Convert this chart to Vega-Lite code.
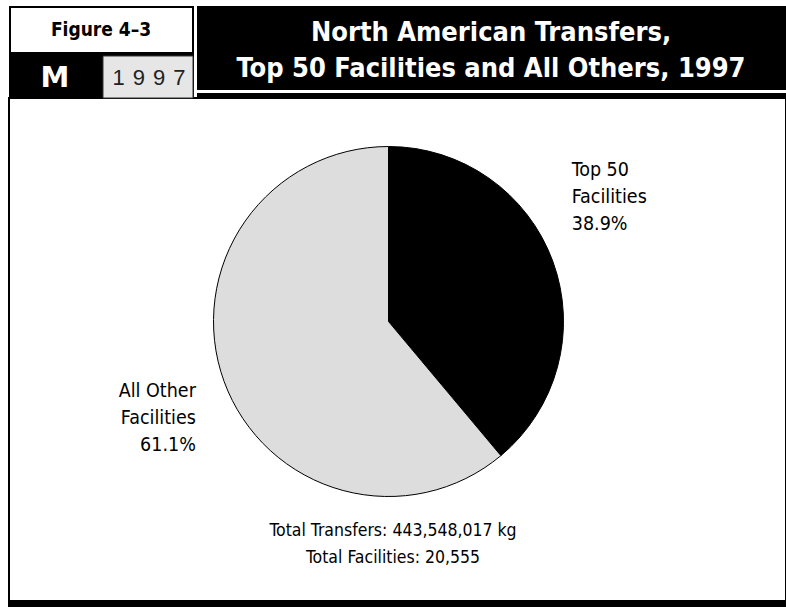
{
  "$schema": "https://vega.github.io/schema/vega-lite/v6.json",
  "width": 786,
  "height": 607,
  "autosize": {"type": "fit", "contains": "padding"},
  "padding": 0,
  "background": "white",
  "config": {"view": {"stroke": null}},
  "data": {
    "values": [
      {"category": "Top 50 Facilities", "value": 38.9, "label": "Top 50\nFacilities\n38.9%"},
      {"category": "All Other Facilities", "value": 61.1, "label": "All Other\nFacilities\n61.1%"}
    ]
  },
  "layer": [
    {"data": {"values": [{}]}, "mark": {"type": "rect", "x": 9, "x2": 786, "y": 98, "y2": 601, "fill": "white", "stroke": "black", "strokeWidth": 2}, "encoding": {}},
    {"data": {"values": [{}]}, "mark": {"type": "rect", "x": 8, "x2": 786, "y": 601, "y2": 607, "fill": "black"}, "encoding": {}},
    {"data": {"values": [{}]}, "mark": {"type": "rect", "x": 197, "x2": 786, "y": 6, "y2": 90, "fill": "black"}, "encoding": {}},
    {"data": {"values": [{}]}, "mark": {"type": "rect", "x": 197, "x2": 786, "y": 93, "y2": 99, "fill": "black"}, "encoding": {}},
    {"data": {"values": [{}]}, "mark": {"type": "rect", "x": 10, "x2": 193, "y": 7, "y2": 53, "fill": "white", "stroke": "black", "strokeWidth": 2}, "encoding": {}},
    {"data": {"values": [{}]}, "mark": {"type": "rect", "x": 9, "x2": 194, "y": 53, "y2": 99, "fill": "black"}, "encoding": {}},
    {"data": {"values": [{}]}, "mark": {"type": "rect", "x": 103, "x2": 193, "y": 56, "y2": 98, "fill": "#e6e6e6", "stroke": "#333333", "strokeWidth": 1}, "encoding": {}},
    {"data": {"values": [{}]}, "mark": {"type": "text", "x": 101, "y": 30, "text": "Figure 4–3", "font": "DejaVu Sans Condensed, sans-serif", "fontWeight": "bold", "fontSize": 19, "align": "center", "baseline": "middle", "color": "black"}, "encoding": {}},
    {"data": {"values": [{}]}, "mark": {"type": "text", "x": 55, "y": 78, "text": "M", "font": "DejaVu Sans, sans-serif", "fontWeight": "bold", "fontSize": 29, "align": "center", "baseline": "middle", "color": "white"}, "encoding": {}},
    {"data": {"values": [{}]}, "mark": {"type": "text", "x": 149, "y": 78, "text": "1\u00a0\u200a9\u00a0\u200a9\u00a0\u200a7", "font": "Liberation Sans, Arial, sans-serif", "fontSize": 22, "align": "center", "baseline": "middle", "color": "#222222"}, "encoding": {}},
    {"data": {"values": [{}]}, "mark": {"type": "text", "x": 491, "y": 33, "text": ["North American Transfers,", "Top 50 Facilities and All Others, 1997"], "lineHeight": 36, "font": "DejaVu Sans Condensed, sans-serif", "fontWeight": "bold", "fontSize": 27, "align": "center", "baseline": "middle", "color": "white"}, "encoding": {}},
    {
      "mark": {"type": "arc", "x": 388.5, "y": 321.5, "outerRadius": 175, "stroke": "black", "strokeWidth": 1},
      "encoding": {
        "theta": {"field": "value", "type": "quantitative", "stack": true},
        "order": {"field": "category", "sort": "descending"},
        "color": {"field": "category", "type": "nominal", "scale": {"domain": ["Top 50 Facilities", "All Other Facilities"], "range": ["#000000", "#dddddd"]}, "legend": null}
      }
    },
    {
      "mark": {"type": "text", "x": 388.5, "y": 321.5, "radius": 195, "dy": -85, "align": "left", "baseline": "middle", "lineBreak": "\n", "lineHeight": 27, "font": "DejaVu Sans Condensed, sans-serif", "fontSize": 19.5, "color": "black"},
      "encoding": {
        "theta": {"field": "value", "type": "quantitative", "stack": true},
        "order": {"field": "category", "sort": "descending"},
        "text": {"condition": {"test": "datum.category === 'Top 50 Facilities'", "field": "label"}, "value": ""}
      }
    },
    {
      "mark": {"type": "text", "x": 388.5, "y": 321.5, "radius": 205, "dy": -1, "align": "right", "baseline": "middle", "lineBreak": "\n", "lineHeight": 27, "font": "DejaVu Sans Condensed, sans-serif", "fontSize": 19.5, "color": "black"},
      "encoding": {
        "theta": {"field": "value", "type": "quantitative", "stack": true},
        "order": {"field": "category", "sort": "descending"},
        "text": {"condition": {"test": "datum.category === 'All Other Facilities'", "field": "label"}, "value": ""}
      }
    },
    {"data": {"values": [{}]}, "mark": {"type": "text", "x": 393, "y": 531, "text": ["Total Transfers: 443,548,017 kg", "Total Facilities: 20,555"], "lineHeight": 27, "font": "DejaVu Sans Condensed, sans-serif", "fontSize": 17.5, "align": "center", "baseline": "middle", "color": "black"}, "encoding": {}}
  ]
}
